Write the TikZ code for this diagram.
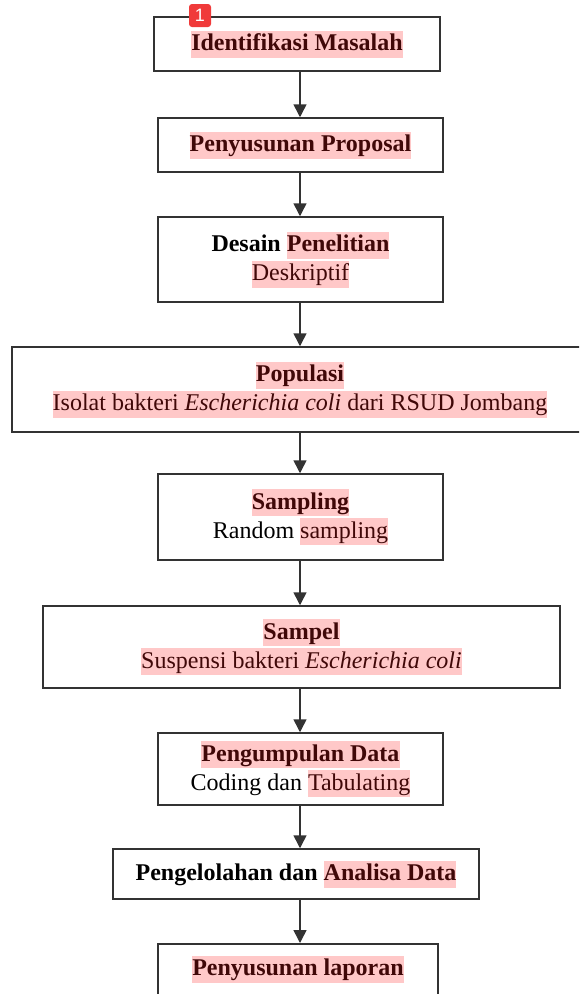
\documentclass[tikz,border=0pt]{standalone}
\usepackage{fontspec}
\setmainfont{Liberation Serif}
\newfontfamily\badgefont{Liberation Sans}
\usetikzlibrary{arrows.meta}
\definecolor{hlpink}{RGB}{255,200,200}
\definecolor{hltext}{RGB}{64,8,8}
\definecolor{edgegray}{RGB}{51,51,51}
\definecolor{badgered}{RGB}{240,58,58}
\newcommand\hlt[1]{{\setlength\fboxsep{0pt}\colorbox{hlpink}{\rule[-7pt]{0pt}{27pt}\color{hltext}#1}}}
\tikzset{
  box/.style={draw=edgegray, line width=1.5pt, fill=white, align=center, inner sep=0pt,
    font=\fontsize{24}{29}\selectfont},
  arr/.style={draw=edgegray, line width=1.5pt, -{Triangle[length=13pt,width=13pt]}},
  badge/.style={fill=badgered, rounded corners=3pt, minimum width=22pt, minimum height=23pt,
    inner sep=0pt, text=white, font=\badgefont\fontsize{18}{18}\selectfont}
}
\begin{document}
\begin{tikzpicture}[x=1pt,y=-1pt]
\clip (0,0) rectangle (579,994);
\fill[white] (0,0) rectangle (579,994);
\coordinate (ax) at (300,0);
\node[box, minimum width=286pt, minimum height=54pt] (b1) at (297,44) {\hlt{\textbf{Identifikasi Masalah}}};
\node[box, minimum width=285pt, minimum height=54pt] (b2) at (300.5,145) {\hlt{\textbf{Penyusunan Proposal}}};
\node[box, minimum width=285pt, minimum height=85pt] (b3) at (300.5,259.5) {\textbf{Desain} \hlt{\textbf{Penelitian}}\\ \hlt{Deskriptif}};
\node[box, minimum width=576pt, minimum height=85pt] (b4) at (300,389.5) {\hlt{\textbf{Populasi}}\\ \hlt{Isolat bakteri \textit{Escherichia coli} dari RSUD Jombang}};
\node[box, minimum width=285pt, minimum height=86pt] (b5) at (300.5,517) {\hlt{\textbf{Sampling}}\\ Random \hlt{sampling}};
\node[box, minimum width=517pt, minimum height=82pt] (b6) at (301.5,647) {\hlt{\textbf{Sampel}}\\ \hlt{Suspensi bakteri \textit{Escherichia coli}}};
\node[box, minimum width=285pt, minimum height=72pt] (b7) at (300.5,769) {\hlt{\textbf{Pengumpulan Data}}\\ Coding dan \hlt{Tabulating}};
\node[box, minimum width=366pt, minimum height=50pt] (b8) at (296,874) {\textbf{Pengelolahan dan} \hlt{\textbf{Analisa Data}}};
\node[box, minimum width=280pt, anchor=north, inner ysep=12pt, text depth=45pt] (b9) at (298,943) {\hlt{\textbf{Penyusunan laporan}}};
\draw[arr] (b1.south -| ax) -- (b2.north -| ax);
\draw[arr] (b2.south -| ax) -- (b3.north -| ax);
\draw[arr] (b3.south -| ax) -- (b4.north -| ax);
\draw[arr] (b4.south -| ax) -- (b5.north -| ax);
\draw[arr] (b5.south -| ax) -- (b6.north -| ax);
\draw[arr] (b6.south -| ax) -- (b7.north -| ax);
\draw[arr] (b7.south -| ax) -- (b8.north -| ax);
\draw[arr] (b8.south -| ax) -- (b9.north -| ax);
\node[badge] (badge) at (200,15.5) {1};
\end{tikzpicture}
\end{document}
